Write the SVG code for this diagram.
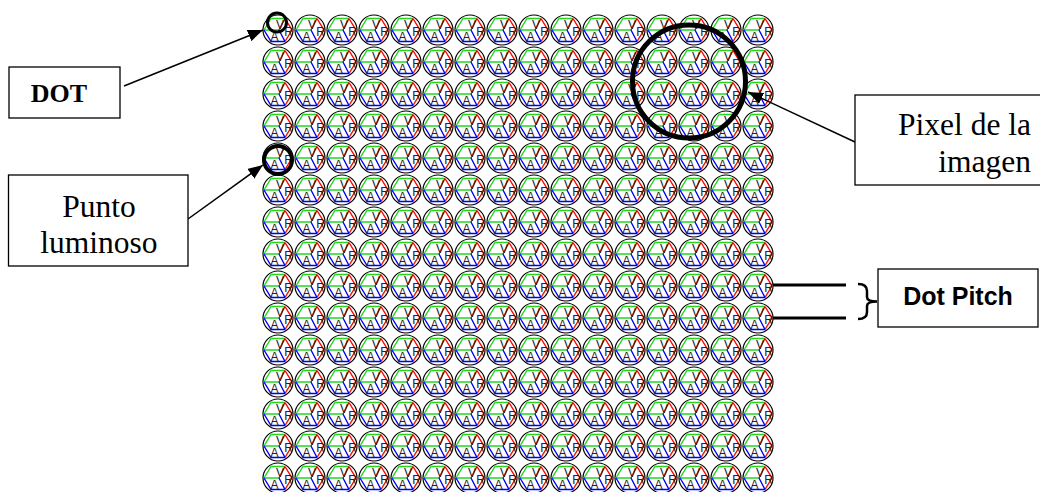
<svg xmlns="http://www.w3.org/2000/svg" width="1040" height="492" viewBox="0 0 1040 492">
<style>
.box{fill:#fff;stroke:#000;stroke-width:1.3}
.serif{font-family:"Liberation Serif","Times New Roman",serif;fill:#000}
.lt{font-family:"Liberation Sans",Arial,sans-serif;font-size:12px;fill:#222;text-anchor:middle}
.con{stroke:#000;stroke-width:1.5;fill:none}
.ring{fill:none;stroke:#000}
</style>
<defs>
<marker id="ah" markerUnits="userSpaceOnUse" markerWidth="16" markerHeight="12" refX="15" refY="6" orient="auto">
<path d="M0,0 L15,6 L0,12 Z" fill="#000"/>
</marker>
<pattern id="cell" patternUnits="userSpaceOnUse" x="262" y="14" width="32" height="32">
<circle cx="16" cy="16" r="15" fill="#fff" stroke="#000" stroke-width="1.2"/>
<path d="M2,16 L9,4.5 L23,4.5 M17,16 L2,16" fill="none" stroke="#1ed81e" stroke-width="1.4"/>
<path d="M23,4.5 L30,16 L23,27.5 M17,16 L23,4.5" fill="none" stroke="#f00" stroke-width="1.4"/>
<path d="M23,27.5 L9,27.5 L2,16 M17,16 L23,27.5" fill="none" stroke="#00f" stroke-width="1.4"/>
</pattern>
</defs>
<rect width="1040" height="492" fill="#fff"/>
<g id="grid">
<rect x="262" y="14" width="512" height="480" fill="url(#cell)"/>
<g id="letters-V" class="lt">
<text x="280 312 344 376 408 440 472 504 536 568 600 632 664 696 728 760" y="29">VVVVVVVVVVVVVVVV</text>
<text x="280 312 344 376 408 440 472 504 536 568 600 632 664 696 728 760" y="61">VVVVVVVVVVVVVVVV</text>
<text x="280 312 344 376 408 440 472 504 536 568 600 632 664 696 728 760" y="93">VVVVVVVVVVVVVVVV</text>
<text x="280 312 344 376 408 440 472 504 536 568 600 632 664 696 728 760" y="125">VVVVVVVVVVVVVVVV</text>
<text x="280 312 344 376 408 440 472 504 536 568 600 632 664 696 728 760" y="157">VVVVVVVVVVVVVVVV</text>
<text x="280 312 344 376 408 440 472 504 536 568 600 632 664 696 728 760" y="189">VVVVVVVVVVVVVVVV</text>
<text x="280 312 344 376 408 440 472 504 536 568 600 632 664 696 728 760" y="221">VVVVVVVVVVVVVVVV</text>
<text x="280 312 344 376 408 440 472 504 536 568 600 632 664 696 728 760" y="253">VVVVVVVVVVVVVVVV</text>
<text x="280 312 344 376 408 440 472 504 536 568 600 632 664 696 728 760" y="285">VVVVVVVVVVVVVVVV</text>
<text x="280 312 344 376 408 440 472 504 536 568 600 632 664 696 728 760" y="317">VVVVVVVVVVVVVVVV</text>
<text x="280 312 344 376 408 440 472 504 536 568 600 632 664 696 728 760" y="349">VVVVVVVVVVVVVVVV</text>
<text x="280 312 344 376 408 440 472 504 536 568 600 632 664 696 728 760" y="381">VVVVVVVVVVVVVVVV</text>
<text x="280 312 344 376 408 440 472 504 536 568 600 632 664 696 728 760" y="413">VVVVVVVVVVVVVVVV</text>
<text x="280 312 344 376 408 440 472 504 536 568 600 632 664 696 728 760" y="445">VVVVVVVVVVVVVVVV</text>
<text x="280 312 344 376 408 440 472 504 536 568 600 632 664 696 728 760" y="477">VVVVVVVVVVVVVVVV</text>
</g>
<g id="letters-R" class="lt">
<text x="288.5 320.5 352.5 384.5 416.5 448.5 480.5 512.5 544.5 576.5 608.5 640.5 672.5 704.5 736.5 768.5" y="35.5">RRRRRRRRRRRRRRRR</text>
<text x="288.5 320.5 352.5 384.5 416.5 448.5 480.5 512.5 544.5 576.5 608.5 640.5 672.5 704.5 736.5 768.5" y="67.5">RRRRRRRRRRRRRRRR</text>
<text x="288.5 320.5 352.5 384.5 416.5 448.5 480.5 512.5 544.5 576.5 608.5 640.5 672.5 704.5 736.5 768.5" y="99.5">RRRRRRRRRRRRRRRR</text>
<text x="288.5 320.5 352.5 384.5 416.5 448.5 480.5 512.5 544.5 576.5 608.5 640.5 672.5 704.5 736.5 768.5" y="131.5">RRRRRRRRRRRRRRRR</text>
<text x="288.5 320.5 352.5 384.5 416.5 448.5 480.5 512.5 544.5 576.5 608.5 640.5 672.5 704.5 736.5 768.5" y="163.5">RRRRRRRRRRRRRRRR</text>
<text x="288.5 320.5 352.5 384.5 416.5 448.5 480.5 512.5 544.5 576.5 608.5 640.5 672.5 704.5 736.5 768.5" y="195.5">RRRRRRRRRRRRRRRR</text>
<text x="288.5 320.5 352.5 384.5 416.5 448.5 480.5 512.5 544.5 576.5 608.5 640.5 672.5 704.5 736.5 768.5" y="227.5">RRRRRRRRRRRRRRRR</text>
<text x="288.5 320.5 352.5 384.5 416.5 448.5 480.5 512.5 544.5 576.5 608.5 640.5 672.5 704.5 736.5 768.5" y="259.5">RRRRRRRRRRRRRRRR</text>
<text x="288.5 320.5 352.5 384.5 416.5 448.5 480.5 512.5 544.5 576.5 608.5 640.5 672.5 704.5 736.5 768.5" y="291.5">RRRRRRRRRRRRRRRR</text>
<text x="288.5 320.5 352.5 384.5 416.5 448.5 480.5 512.5 544.5 576.5 608.5 640.5 672.5 704.5 736.5 768.5" y="323.5">RRRRRRRRRRRRRRRR</text>
<text x="288.5 320.5 352.5 384.5 416.5 448.5 480.5 512.5 544.5 576.5 608.5 640.5 672.5 704.5 736.5 768.5" y="355.5">RRRRRRRRRRRRRRRR</text>
<text x="288.5 320.5 352.5 384.5 416.5 448.5 480.5 512.5 544.5 576.5 608.5 640.5 672.5 704.5 736.5 768.5" y="387.5">RRRRRRRRRRRRRRRR</text>
<text x="288.5 320.5 352.5 384.5 416.5 448.5 480.5 512.5 544.5 576.5 608.5 640.5 672.5 704.5 736.5 768.5" y="419.5">RRRRRRRRRRRRRRRR</text>
<text x="288.5 320.5 352.5 384.5 416.5 448.5 480.5 512.5 544.5 576.5 608.5 640.5 672.5 704.5 736.5 768.5" y="451.5">RRRRRRRRRRRRRRRR</text>
<text x="288.5 320.5 352.5 384.5 416.5 448.5 480.5 512.5 544.5 576.5 608.5 640.5 672.5 704.5 736.5 768.5" y="483.5">RRRRRRRRRRRRRRRR</text>
</g>
<g id="letters-A" class="lt">
<text x="274.5 306.5 338.5 370.5 402.5 434.5 466.5 498.5 530.5 562.5 594.5 626.5 658.5 690.5 722.5 754.5" y="41">AAAAAAAAAAAAAAAA</text>
<text x="274.5 306.5 338.5 370.5 402.5 434.5 466.5 498.5 530.5 562.5 594.5 626.5 658.5 690.5 722.5 754.5" y="73">AAAAAAAAAAAAAAAA</text>
<text x="274.5 306.5 338.5 370.5 402.5 434.5 466.5 498.5 530.5 562.5 594.5 626.5 658.5 690.5 722.5 754.5" y="105">AAAAAAAAAAAAAAAA</text>
<text x="274.5 306.5 338.5 370.5 402.5 434.5 466.5 498.5 530.5 562.5 594.5 626.5 658.5 690.5 722.5 754.5" y="137">AAAAAAAAAAAAAAAA</text>
<text x="274.5 306.5 338.5 370.5 402.5 434.5 466.5 498.5 530.5 562.5 594.5 626.5 658.5 690.5 722.5 754.5" y="169">AAAAAAAAAAAAAAAA</text>
<text x="274.5 306.5 338.5 370.5 402.5 434.5 466.5 498.5 530.5 562.5 594.5 626.5 658.5 690.5 722.5 754.5" y="201">AAAAAAAAAAAAAAAA</text>
<text x="274.5 306.5 338.5 370.5 402.5 434.5 466.5 498.5 530.5 562.5 594.5 626.5 658.5 690.5 722.5 754.5" y="233">AAAAAAAAAAAAAAAA</text>
<text x="274.5 306.5 338.5 370.5 402.5 434.5 466.5 498.5 530.5 562.5 594.5 626.5 658.5 690.5 722.5 754.5" y="265">AAAAAAAAAAAAAAAA</text>
<text x="274.5 306.5 338.5 370.5 402.5 434.5 466.5 498.5 530.5 562.5 594.5 626.5 658.5 690.5 722.5 754.5" y="297">AAAAAAAAAAAAAAAA</text>
<text x="274.5 306.5 338.5 370.5 402.5 434.5 466.5 498.5 530.5 562.5 594.5 626.5 658.5 690.5 722.5 754.5" y="329">AAAAAAAAAAAAAAAA</text>
<text x="274.5 306.5 338.5 370.5 402.5 434.5 466.5 498.5 530.5 562.5 594.5 626.5 658.5 690.5 722.5 754.5" y="361">AAAAAAAAAAAAAAAA</text>
<text x="274.5 306.5 338.5 370.5 402.5 434.5 466.5 498.5 530.5 562.5 594.5 626.5 658.5 690.5 722.5 754.5" y="393">AAAAAAAAAAAAAAAA</text>
<text x="274.5 306.5 338.5 370.5 402.5 434.5 466.5 498.5 530.5 562.5 594.5 626.5 658.5 690.5 722.5 754.5" y="425">AAAAAAAAAAAAAAAA</text>
<text x="274.5 306.5 338.5 370.5 402.5 434.5 466.5 498.5 530.5 562.5 594.5 626.5 658.5 690.5 722.5 754.5" y="457">AAAAAAAAAAAAAAAA</text>
<text x="274.5 306.5 338.5 370.5 402.5 434.5 466.5 498.5 530.5 562.5 594.5 626.5 658.5 690.5 722.5 754.5" y="489">AAAAAAAAAAAAAAAA</text>
</g>
</g>
<g id="highlights">
<circle class="ring" cx="277" cy="22.5" r="9.5" stroke-width="3"/>
<circle class="ring" cx="278" cy="160" r="14" stroke-width="4"/>
<circle class="ring" cx="689" cy="81.5" r="56.5" stroke-width="5"/>
</g>
<g id="connectors">
<line class="con" x1="124" y1="86" x2="263" y2="30" marker-end="url(#ah)"/>
<line class="con" x1="188" y1="219" x2="263" y2="165" marker-end="url(#ah)"/>
<line class="con" x1="855" y1="142" x2="748" y2="92" marker-end="url(#ah)"/>
<line x1="773" y1="285" x2="846" y2="285" stroke="#000" stroke-width="3"/>
<line x1="773" y1="318" x2="846" y2="318" stroke="#000" stroke-width="3"/>
<path d="M858,284 Q867,284 867,291 L867,297 Q867,301.5 877,301.5 Q867,301.5 867,306 L867,312 Q867,319 858,319" fill="none" stroke="#000" stroke-width="2.5"/>
</g>
<g id="node-dot">
<rect class="box" x="9" y="67" width="111" height="51"/>
<text class="serif" x="59" y="102" font-size="26" font-weight="bold" text-anchor="middle">DOT</text>
</g>
<g id="node-punto">
<rect class="box" x="8.5" y="175" width="179.5" height="91"/>
<text class="serif" x="99" y="216.5" font-size="31.5" text-anchor="middle">Punto</text>
<text class="serif" x="99" y="253" font-size="31.5" text-anchor="middle">luminoso</text>
</g>
<g id="node-pixel">
<rect class="box" x="855" y="95" width="200" height="90"/>
<text class="serif" x="1031" y="135" font-size="31.5" text-anchor="end">Pixel de la</text>
<text class="serif" x="1031" y="171.5" font-size="31.5" text-anchor="end">imagen</text>
</g>
<g id="node-dotpitch">
<rect class="box" x="878" y="269" width="160" height="58"/>
<text x="958" y="305" font-family="Liberation Sans, Arial, sans-serif" font-size="25" font-weight="bold" text-anchor="middle">Dot Pitch</text>
</g>
</svg>
